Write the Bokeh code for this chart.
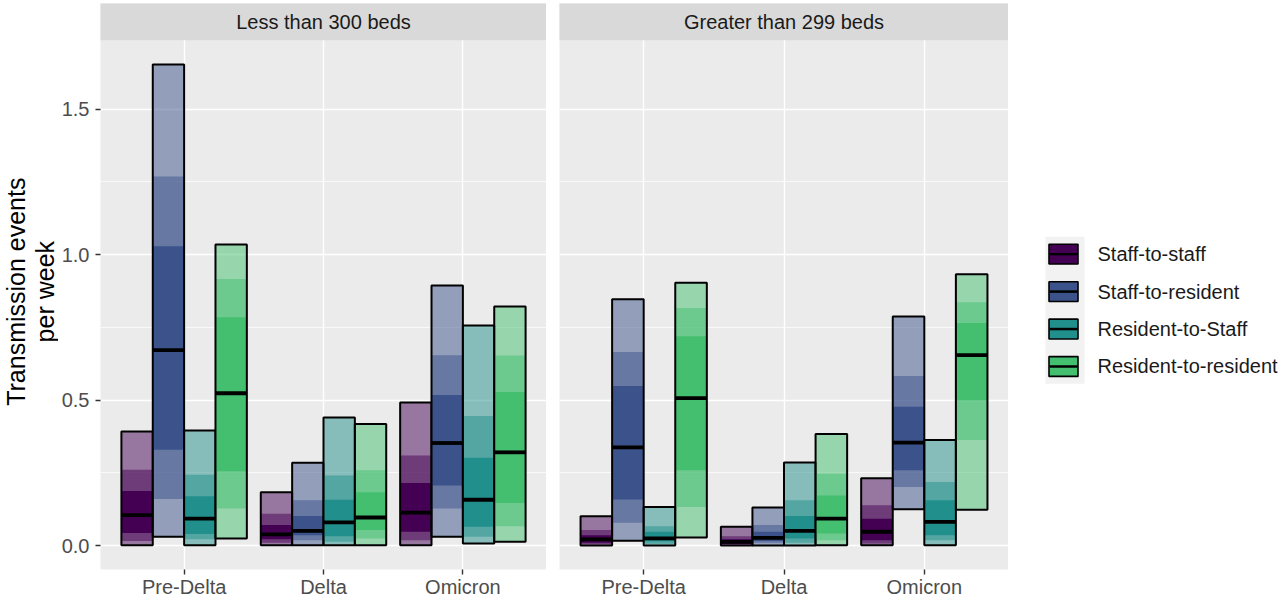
import math
from bokeh.plotting import figure
from bokeh.models import ColumnDataSource, FactorRange, Range1d, FixedTicker, NumeralTickFormatter
from bokeh.transform import dodge
from bokeh.layouts import row
from bokeh.core.properties import value
from bokeh.embed import file_html
from bokeh.resources import INLINE

# ---------------- data ----------------
periods = ["Pre-Delta", "Delta", "Omicron"]
routes = ["Staff-to-staff", "Staff-to-resident", "Resident-to-Staff", "Resident-to-resident"]
panel_titles = ["Less than 300 beds", "Greater than 299 beds"]
y_title_lines = ["Transmission events", "per week"]
colors = ["#440154", "#3B528B", "#21908C", "#44BF70"]
y_ticks = [0.0, 0.5, 1.0, 1.5]
y_minor = [0.25, 0.75, 1.25]
quantiles = ["lo95", "lo80", "lo50", "med", "hi50", "hi80", "hi95"]

# rows = periods (Pre-Delta, Delta, Omicron); columns = quantiles above
small_staff_staff = [[0.002, 0.016, 0.044, 0.105, 0.188, 0.261, 0.393],
                     [0.002, 0.010, 0.022, 0.039, 0.071, 0.110, 0.184],
                     [0.002, 0.019, 0.048, 0.114, 0.216, 0.310, 0.492]]
small_staff_res = [[0.031, 0.161, 0.330, 0.672, 1.029, 1.269, 1.654],
                   [0.002, 0.019, 0.036, 0.051, 0.102, 0.156, 0.285],
                   [0.031, 0.128, 0.207, 0.353, 0.518, 0.655, 0.894]]
small_res_staff = [[0.002, 0.022, 0.040, 0.093, 0.170, 0.244, 0.396],
                   [0.002, 0.014, 0.033, 0.080, 0.158, 0.241, 0.441],
                   [0.008, 0.031, 0.065, 0.158, 0.302, 0.446, 0.757]]
small_res_res = [[0.025, 0.128, 0.256, 0.524, 0.785, 0.917, 1.035],
                 [0.002, 0.025, 0.054, 0.097, 0.184, 0.259, 0.418],
                 [0.014, 0.067, 0.147, 0.321, 0.528, 0.654, 0.822]]

large_staff_staff = [[0.001, 0.005, 0.010, 0.022, 0.036, 0.054, 0.101],
                     [0.001, 0.003, 0.006, 0.013, 0.022, 0.033, 0.065],
                     [0.002, 0.008, 0.019, 0.048, 0.093, 0.139, 0.232]]
large_staff_res = [[0.017, 0.079, 0.159, 0.338, 0.549, 0.666, 0.847],
                   [0.001, 0.010, 0.016, 0.027, 0.048, 0.071, 0.131],
                   [0.125, 0.202, 0.259, 0.354, 0.478, 0.583, 0.788]]
large_res_staff = [[0.001, 0.007, 0.015, 0.025, 0.048, 0.067, 0.133],
                   [0.001, 0.010, 0.025, 0.051, 0.102, 0.156, 0.286],
                   [0.002, 0.019, 0.036, 0.082, 0.156, 0.219, 0.363]]
large_res_res = [[0.028, 0.133, 0.259, 0.507, 0.720, 0.817, 0.904],
                 [0.002, 0.019, 0.042, 0.093, 0.173, 0.247, 0.384],
                 [0.124, 0.363, 0.500, 0.655, 0.765, 0.837, 0.933]]

panel_data = [
    [small_staff_staff, small_staff_res, small_res_staff, small_res_res],
    [large_staff_staff, large_staff_res, large_res_staff, large_res_res],
]

# ---------------- layout constants ----------------
FONT = "Liberation Sans"
FS = "20px"
H = 600
BORDER_TOP = 3
BORDER_BOTTOM = 29
STRIP_PX = 37
frame_h = H - BORDER_TOP - BORDER_BOTTOM
panel_px = frame_h - STRIP_PX

all_lo = [r[0] for pd in panel_data for s in pd for r in s]
all_hi = [r[6] for pd in panel_data for s in pd for r in s]
span = max(all_hi) - min(all_lo)
y0 = min(all_lo) - 0.05 * span
ytop = max(all_hi) + 0.05 * span
units_per_px = (ytop - y0) / panel_px
y1 = ytop + STRIP_PX * units_per_px

n = len(routes)
bar_w = 0.9 / n
offsets = [(-0.45 + bar_w / 2 + i * bar_w) for i in range(n)]


def make_panel(k, width, border_left, show_y):
    p = figure(x_range=FactorRange(factors=periods, range_padding=0.1, range_padding_units="absolute"),
               y_range=Range1d(y0, y1), width=width, height=H,
               output_backend="svg", toolbar_location=None,
               min_border_left=border_left, min_border_right=0, min_border_top=BORDER_TOP,
               min_border_bottom=BORDER_BOTTOM,
               background_fill_color="#EBEBEB", border_fill_color="white")
    p.outline_line_color = None

    # grids
    p.xgrid.grid_line_color = "white"
    p.xgrid.grid_line_width = 1.4
    p.ygrid.ticker = FixedTicker(ticks=y_ticks, minor_ticks=y_minor)
    p.ygrid.grid_line_color = "white"
    p.ygrid.grid_line_width = 1.4
    p.ygrid.minor_grid_line_color = "white"
    p.ygrid.minor_grid_line_width = 0.7

    # axes
    p.xaxis.major_label_text_font = FONT
    p.xaxis.major_label_text_font_size = FS
    p.xaxis.major_label_text_color = "#4D4D4D"
    p.xaxis.major_tick_line_color = "#333333"
    p.xaxis.major_tick_line_width = 1.4
    p.xaxis.major_tick_out = 5
    p.xaxis.major_tick_in = 0
    p.xaxis.major_label_standoff = 1
    p.xaxis.axis_line_color = None
    p.xaxis.minor_tick_line_color = None

    p.yaxis.ticker = FixedTicker(ticks=y_ticks)
    p.yaxis.formatter = NumeralTickFormatter(format="0.0")
    if show_y:
        p.yaxis.major_label_text_font = FONT
        p.yaxis.major_label_text_font_size = FS
        p.yaxis.major_label_text_color = "#4D4D4D"
        p.yaxis.major_tick_line_color = "#333333"
        p.yaxis.major_tick_line_width = 1.4
        p.yaxis.major_tick_out = 5
        p.yaxis.major_tick_in = 0
        p.yaxis.major_label_standoff = 6
        p.yaxis.axis_line_color = None
        p.yaxis.minor_tick_line_color = None
    else:
        p.yaxis.visible = False

    # bars
    for i, (route, col) in enumerate(zip(routes, colors)):
        rows = panel_data[k][i]
        d = {"period": periods}
        for j, q in enumerate(quantiles):
            d[q] = [r[j] for r in rows]
        src = ColumnDataSource(d)
        x = dodge("period", offsets[i], range=p.x_range)
        p.vbar(x=x, width=bar_w, bottom="lo95", top="hi95", source=src,
               fill_color=col, fill_alpha=0.5, line_color=None)
        p.vbar(x=x, width=bar_w, bottom="lo80", top="hi80", source=src,
               fill_color=col, fill_alpha=0.5, line_color=None)
        p.vbar(x=x, width=bar_w, bottom="lo50", top="hi50", source=src,
               fill_color=col, fill_alpha=1.0, line_color=None)
        p.segment(x0=dodge("period", offsets[i] - bar_w / 2, range=p.x_range), y0="med",
                  x1=dodge("period", offsets[i] + bar_w / 2, range=p.x_range), y1="med",
                  source=src, line_color="black", line_width=3.8)
        p.vbar(x=x, width=bar_w, bottom="lo95", top="hi95", source=src,
               fill_color=None, line_color="black", line_width=2)

    # facet strip
    p.quad(left=[-1], right=[len(periods) + 1], bottom=[ytop], top=[y1 + 1],
           fill_color="#D9D9D9", line_color=None)
    p.text(x=[len(periods) / 2], y=[(ytop + y1) / 2], text=[panel_titles[k]],
           text_align="center", text_baseline="middle",
           text_font=value(FONT), text_font_size=FS, text_color="#1A1A1A")
    return p


def blank(width):
    f = figure(x_range=Range1d(0, width), y_range=Range1d(0, H), width=width, height=H,
               output_backend="svg", toolbar_location=None,
               min_border_left=0, min_border_right=0, min_border_top=0, min_border_bottom=0,
               background_fill_color="white", border_fill_color="white")
    f.outline_line_color = None
    f.axis.visible = False
    f.grid.visible = False
    return f


# y-axis title (two rotated lines)
TW = 58
ttl = blank(TW)
panel_mid = H - (BORDER_TOP + STRIP_PX + panel_px / 2)
ttl.text(x=[15, 44.5], y=[panel_mid, panel_mid], text=y_title_lines, angle=math.pi / 2,
         text_align="center", text_baseline="middle",
         text_font=value(FONT), text_font_size="25px", text_color="black")

left = make_panel(0, 546 - TW, 98 - TW, True)
right = make_panel(1, 462, 13, False)

# ---------------- legend (separate panel) ----------------
LW = 1280 - 1008
leg = blank(LW)
row_gap = 39.7
first_y = 265.7
key_y = [H - (first_y + i * row_gap) for i in range(n)]
leg.rect(x=[56.5], y=[(key_y[0] + key_y[-1]) / 2], width=[39], height=[row_gap * n - 3],
         fill_color="#F2F2F2", line_color=None)
leg.rect(x=[55] * n, y=key_y, width=[29] * n, height=[21] * n,
         fill_color=colors, line_color="black", line_width=1.6)
leg.segment(x0=[41] * n, y0=key_y, x1=[69] * n, y1=key_y, line_color="black", line_width=2.5)
leg.text(x=[89] * n, y=key_y, text=routes, text_align="left", text_baseline="middle",
         text_font=value(FONT), text_font_size=FS, text_color="#1A1A1A")

layout = row(ttl, left, right, leg)
open("out.html", "w").write(file_html(layout, INLINE))
